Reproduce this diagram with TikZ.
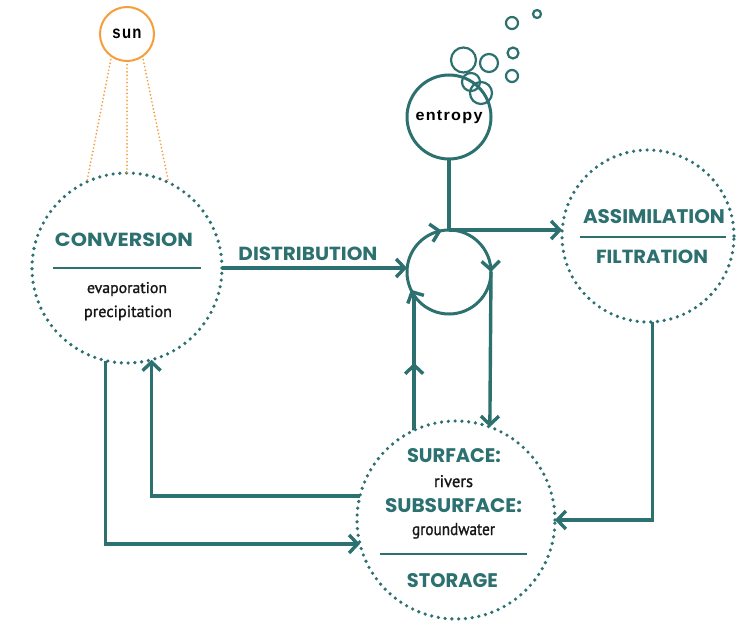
\documentclass[tikz,border=0pt]{standalone}
\usepackage{fontspec}
\usepackage{graphicx}
\usetikzlibrary{arrows.meta,calc}
\setmainfont{Poppins}
\newfontfamily\labelfont[FakeBold=1.2]{PT Sans}
\newfontfamily\tagfont[LetterSpace=8]{Liberation Sans}
\definecolor{cycleteal}{RGB}{44,112,112}
\definecolor{sunorange}{RGB}{246,158,58}
\definecolor{inkgray}{RGB}{22,22,24}
% stretch a text box to a given width and height (in pt)
\newcommand\fitbox[3]{\resizebox{#1pt}{#2pt}{#3}}
\tikzset{
  flow/.style={draw=cycleteal, line width=3.4pt},
  arr/.style={flow, -{Straight Barb[length=8.5pt,width=18pt]}},
  dotcircle/.style={circle, draw=cycleteal, line width=3.6pt, dash pattern=on 0pt off 6.8pt,
    line cap=round, inner sep=0pt, outer sep=0pt},
  solidcircle/.style={circle, draw=cycleteal, line width=3pt, inner sep=0pt, outer sep=0pt},
  bubble/.style={draw=cycleteal, line width=2.2pt},
  sunray/.style={draw=sunorange, line width=1.9pt, dash pattern=on 0pt off 3.6pt, line cap=round},
  head/.style={text=cycleteal, font=\bfseries, inner sep=0pt, anchor=base},
  sub/.style={text=inkgray, font=\labelfont, inner sep=0pt, anchor=base},
  tag/.style={text=black, font=\tagfont\bfseries, inner sep=0pt, anchor=base},
  rule/.style={draw=cycleteal, line width=2pt},
}
\begin{document}
\begin{tikzpicture}[x=1pt,y=-1pt]
\useasboundingbox[fill=white] (0,0) rectangle (737,624);

% circles
\node[circle, draw=sunorange, line width=2pt, minimum size=54pt, inner sep=0pt, outer sep=0pt] (sun) at (127,34) {};
\node[dotcircle, minimum size=190pt] (conv) at (127,268) {};
\node[solidcircle, minimum size=84pt] (hub) at (449,272) {};
\node[solidcircle, minimum size=84pt] (entropy) at (449,117) {};
\node[dotcircle, minimum size=172pt] (assim) at (648,236) {};
\node[dotcircle, minimum size=198pt] (store) at (456,520) {};

% bubbles rising from the entropy circle
\draw[bubble] (463.5,60) circle[radius=12.5];
\draw[bubble] (489,63) circle[radius=9];
\draw[bubble] (471,82) circle[radius=9];
\draw[bubble] (481,93) circle[radius=11];
\draw[bubble] (512,23) circle[radius=6];
\draw[bubble] (537,14) circle[radius=4];
\draw[bubble] (513,53) circle[radius=5.5];
\draw[bubble] (512,76) circle[radius=6];

% sun rays
\draw[sunray] (sun.235) -- (conv.115);
\draw[sunray] (sun.270) -- (conv.90);
\draw[sunray] (sun.305) -- (conv.64);

% labels
\node[tag] (sunT) at (127,38) {\fitbox{29}{9.5}{sun}};
\node[tag] (entT) at (449,120) {\fitbox{67}{10}{entropy}};

\node[head] (convT) at (124,246) {\fitbox{138}{13.5}{CONVERSION}};
\draw[rule] ($(conv.center)+(-74,0)$) -- ($(conv.center)+(74,0)$);
\node[sub] (evapT) at (127,293) {\fitbox{80}{11}{evaporation}};
\node[sub] (precT) at (128,317) {\fitbox{88}{11.5}{precipitation}};

\node[head] (distT) at (308,260) {\fitbox{139}{13.5}{DISTRIBUTION}};

\node[head] (assimT) at (654,223) {\fitbox{142}{14}{ASSIMILATION}};
\draw[rule] ($(assim.center)+(-68,1)$) -- ($(assim.center)+(78,1)$);
\node[head] (filtT) at (652,263) {\fitbox{112}{13.5}{FILTRATION}};

\node[head] (surfT) at (454,462) {\fitbox{94}{14}{SURFACE:}};
\node[sub] (rivT) at (453.5,487) {\fitbox{39}{12}{rivers}};
\node[head] (subT) at (453.5,512) {\fitbox{137}{14}{SUBSURFACE:}};
\node[sub] (gwT) at (453.5,535) {\fitbox{83}{12}{groundwater}};
\draw[rule] ($(store.center)+(-76,34)$) -- ($(store.center)+(71,34)$);
\node[head] (storT) at (452.5,587) {\fitbox{91}{14}{STORAGE}};

% connectors
\draw[arr] (conv.east) -- (conv.east -| hub.west);
\draw[flow] (entropy.south) -- (hub.north);
\draw[arr] (hub.north) -- (hub.north -| assim.west);
\draw[arr] (hub.east) -- (store.70);
\coordinate (upTop) at (store.115 |- hub.214);
\coordinate (upMid) at ($(store.115)!0.5!(upTop)$);
\draw[flow] (store.115) -- (upTop);
\draw[arr] (store.115) -- (upMid);
\draw[arr] (assim.-87) |- (store.east);
\draw[arr] (store.166) -| (conv.-75);
\draw[arr] (conv.-103) |- (store.194);

% circulation marks on the hub
\draw[arr] (hub.104) -- (hub.100);
\draw[arr] (hub.4) -- (hub.0);
\draw[arr] (hub.209) -- (hub.205);
\end{tikzpicture}
\end{document}
